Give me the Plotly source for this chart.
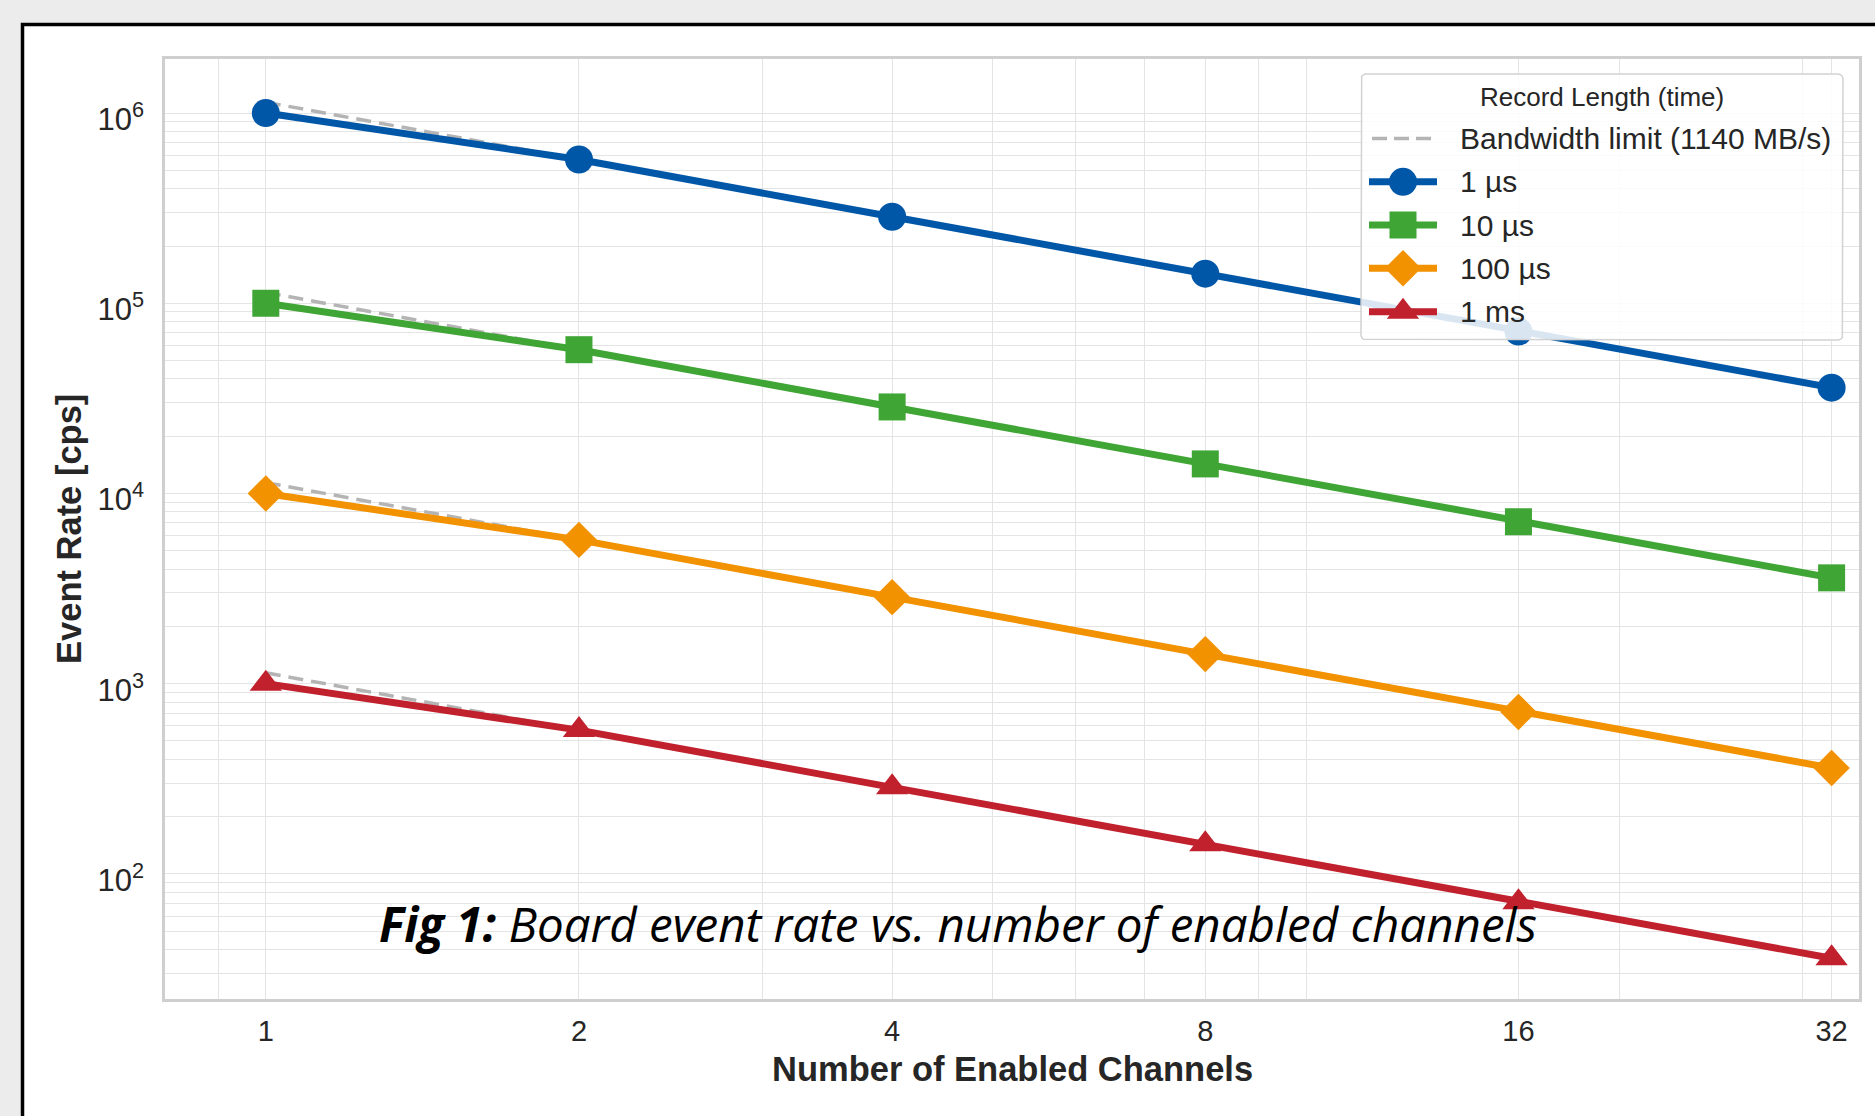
import math
import plotly.graph_objects as go

# ---------------------------------------------------------------- data
channels = [1, 2, 4, 8, 16, 32]
channel_labels = ["1", "2", "4", "8", "16", "32"]

record_lengths = ["1 µs", "10 µs", "100 µs", "1 ms"]

# measured board event rate [cps]
rate_1us = [1.0e6, 5.7e5, 2.85e5, 1.43e5, 7.1e4, 3.6e4]
rate_10us = [1.0e5, 5.7e4, 2.85e4, 1.43e4, 7.1e3, 3.6e3]
rate_100us = [1.0e4, 5.7e3, 2.85e3, 1.43e3, 7.1e2, 3.6e2]
rate_1ms = [1.0e3, 5.7e2, 2.85e2, 1.43e2, 7.1e1, 3.6e1]

# ceiling set by the 1140 MB/s readout bandwidth
limit_1us = [1.14e6, 5.7e5, 2.85e5, 1.43e5, 7.1e4, 3.6e4]
limit_10us = [1.14e5, 5.7e4, 2.85e4, 1.43e4, 7.1e3, 3.6e3]
limit_100us = [1.14e4, 5.7e3, 2.85e3, 1.43e3, 7.1e2, 3.6e2]
limit_1ms = [1.14e3, 5.7e2, 2.85e2, 1.43e2, 7.1e1, 3.6e1]

y_tick_vals = [1e2, 1e3, 1e4, 1e5, 1e6]
y_tick_text = ["10<sup>2</sup>", "10<sup>3</sup>", "10<sup>4</sup>",
               "10<sup>5</sup>", "10<sup>6</sup>"]

# ---------------------------------------------------------------- style
colors = ["#0057A8", "#3FA535", "#F39200", "#C1202D"]
symbols = ["circle", "square", "diamond", "triangle-up"]
marker_sizes = [28, 27, 28, 28]
line_width = 7
limit_color = "#B4B4B4"
grid_color = "#E4E4E4"
text_color = "#262626"
sans = "Liberation Sans, Arial, sans-serif"

rates = [rate_1us, rate_10us, rate_100us, rate_1ms]
limits = [limit_1us, limit_10us, limit_100us, limit_1ms]

# plot-area geometry in page pixels
L, R, T, B = 165, 1859, 59, 999
W, H = 1875, 1116

x_minor = [0.9, 3, 5, 6, 7, 9, 10, 20, 30]
y_minor = [m * 10 ** k for k in range(1, 7) for m in range(2, 10)]


def px_x(p):
    return (p - L) / (R - L)


def px_y(p):
    return (B - p) / (B - T)


fig = go.Figure()

# bandwidth-limit guides, drawn first so the measured curves sit on top
for lim in limits:
    fig.add_trace(go.Scatter(
        x=channels, y=lim, mode="lines",
        line=dict(color=limit_color, width=3.5, dash="15px,8px"),
        hoverinfo="skip", showlegend=False))

for name, vals, col, sym, ms in zip(record_lengths, rates, colors, symbols, marker_sizes):
    fig.add_trace(go.Scatter(
        x=channels, y=vals, mode="lines+markers", name=name,
        line=dict(color=col, width=line_width),
        marker=dict(symbol=sym, size=ms, color=col, line=dict(width=0)),
        showlegend=False))

# ---------------------------------------------------------------- legend box
# drawn on a pixel-space overlay so it covers the curves but not its samples
lx0, lx1, ly0, ly1, rad = 1361, 1843, 74, 340, 5


def rounded_rect(x0, x1, y0, y1, r, n=6):
    xs, ys = [], []
    corners = [(x1 - r, y0 + r, -90, 0), (x1 - r, y1 - r, 0, 90),
               (x0 + r, y1 - r, 90, 180), (x0 + r, y0 + r, 180, 270)]
    for cx, cy, a0, a1 in corners:
        for i in range(n + 1):
            a = math.radians(a0 + (a1 - a0) * i / n)
            xs.append(cx + r * math.cos(a))
            ys.append(cy + r * math.sin(a))
    xs.append(xs[0])
    ys.append(ys[0])
    return xs, ys


bx, by = rounded_rect(lx0, lx1, ly0, ly1, rad)
fig.add_trace(go.Scatter(
    x=bx, y=by, xaxis="x2", yaxis="y2", mode="lines", fill="toself",
    fillcolor="rgba(255,255,255,0.85)", line=dict(color="#D2D2D2", width=1.5),
    hoverinfo="skip", showlegend=False))

sample_x0, sample_x1, sample_xm = 1369, 1437, 1403
text_x = 1458
row_y = [138.5, 181.8, 225, 268.2, 311.8]

fig.add_trace(go.Scatter(
    x=[sample_x0 + 3, sample_x1 - 3], y=[row_y[0], row_y[0]], xaxis="x2", yaxis="y2",
    mode="lines", line=dict(color=limit_color, width=3.5, dash="15px,7px"),
    hoverinfo="skip", showlegend=False))

for i, (col, sym, ms) in enumerate(zip(colors, symbols, marker_sizes)):
    yy = row_y[i + 1]
    fig.add_trace(go.Scatter(
        x=[sample_x0, sample_x1], y=[yy, yy], xaxis="x2", yaxis="y2",
        mode="lines", line=dict(color=col, width=line_width),
        hoverinfo="skip", showlegend=False))
    fig.add_trace(go.Scatter(
        x=[sample_xm], y=[yy], xaxis="x2", yaxis="y2", mode="markers",
        marker=dict(symbol=sym, size=ms, color=col, line=dict(width=0)),
        hoverinfo="skip", showlegend=False))

legend_labels = ["Bandwidth limit (1140 MB/s)"] + record_lengths
annotations = [dict(
    x=1602, y=97, xref="x2", yref="y2", text="Record Length (time)",
    showarrow=False, xanchor="center", yanchor="middle",
    font=dict(family=sans, size=26, color=text_color))]
for lab, yy in zip(legend_labels, row_y):
    annotations.append(dict(
        x=text_x, y=yy, xref="x2", yref="y2", text=lab, showarrow=False,
        xanchor="left", yanchor="middle",
        font=dict(family=sans, size=30, color=text_color)))

# axis titles (paper coordinates, they sit in the margins)
annotations.append(dict(
    x=px_x((L + R) / 2), y=px_y(1069), xref="paper", yref="paper",
    text="<b>Number of Enabled Channels</b>",
    showarrow=False, xanchor="center", yanchor="middle",
    font=dict(family=sans, size=34.5, color=text_color)))
annotations.append(dict(
    x=px_x(69), y=px_y((T + B) / 2), xref="paper", yref="paper",
    text="<b>Event Rate [cps]</b>",
    showarrow=False, xanchor="center", yanchor="middle", textangle=-90,
    font=dict(family=sans, size=34.5, color=text_color)))

# figure caption
annotations.append(dict(
    x=px_x(958), y=px_y(923), xref="paper", yref="paper",
    text="<b><i>Fig 1:</i></b><i> Board event rate vs. number of enabled channels</i>",
    showarrow=False, xanchor="center", yanchor="middle",
    font=dict(family="Open Sans, sans-serif", size=47.5, color="#000000")))

fig.update_layout(
    width=W, height=H,
    margin=dict(l=L, r=W - R, t=T, b=H - B, pad=0),
    paper_bgcolor="#ECECEC",
    plot_bgcolor="#FFFFFF",
    showlegend=False,
    annotations=annotations,
    shapes=[dict(
        type="rect", xref="paper", yref="paper", layer="below",
        x0=px_x(22.5), x1=px_x(1940), y0=px_y(1160), y1=px_y(24.5),
        line=dict(color="#000000", width=3.5), fillcolor="#FFFFFF")],
    xaxis=dict(
        type="log", range=[math.log10(0.8), math.log10(34)],
        tickmode="array", tickvals=channels, ticktext=channel_labels,
        showgrid=True, gridcolor=grid_color, gridwidth=1.2,
        minor=dict(tickmode="array", tickvals=x_minor, showgrid=True,
                   gridcolor=grid_color, gridwidth=1.2, ticks=""),
        showline=True, mirror=True, linecolor="#CFCFCF", linewidth=2.5,
        ticks="", ticklabelstandoff=4, zeroline=False,
        tickfont=dict(family=sans, size=29, color=text_color)),
    yaxis=dict(
        type="log", range=[1.3421, 6.2842],
        tickmode="array", tickvals=y_tick_vals, ticktext=y_tick_text,
        showgrid=True, gridcolor=grid_color, gridwidth=1.2,
        minor=dict(tickmode="array", tickvals=y_minor, showgrid=True,
                   gridcolor=grid_color, gridwidth=1.2, ticks=""),
        showline=True, mirror=True, linecolor="#CFCFCF", linewidth=2.5,
        ticks="", ticklabelstandoff=12, ticklabelshift=6, zeroline=False,
        tickfont=dict(family=sans, size=31, color=text_color)),
    xaxis2=dict(overlaying="x", anchor="y2", range=[L, R], visible=False,
                showgrid=False, zeroline=False, fixedrange=True),
    yaxis2=dict(overlaying="y", anchor="x2", range=[B, T], visible=False,
                showgrid=False, zeroline=False, fixedrange=True),
)

fig.write_html("out.html")
